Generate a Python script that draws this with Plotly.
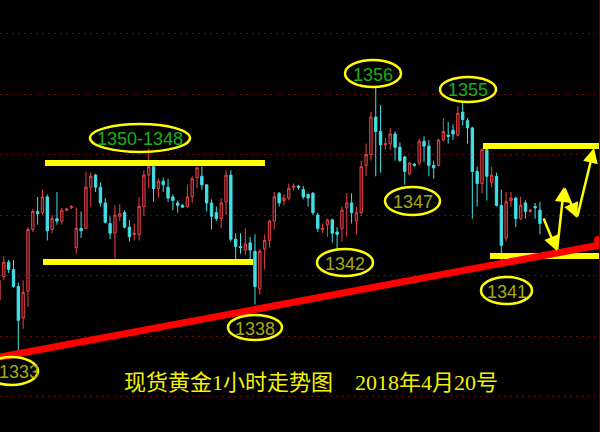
import plotly.graph_objects as go

# hourly candles (index 0 = first visible bar)
opens = [1338.0,1339.9,1341.1,1340.5,1339.1,1336.5,1338.7,1343.8,1345.3,1345.2,
         1346.5,1343.8,1344.7,1344.5,1345.4,1345.6,1342.3,1343.9,1343.9,1347.3,
         1348.3,1347.3,1346.0,1344.3,1343.5,1344.9,1345.2,1344.0,1343.4,1343.4,
         1345.7,1348.3,1349.0,1347.2,1347.8,1347.3,1346.5,1346.0,1345.8,1345.7,
         1346.5,1348.1,1348.2,1347.5,1346.0,1345.2,1344.7,1346.1,1348.3,1343.0,
         1342.4,1342.1,1342.7,1342.0,1338.9,1342.2,1342.9,1344.5,1346.8,1346.2,
         1346.4,1347.3,1347.4,1347.1,1346.7,1346.8,1345.0,1343.8,1344.2,1344.6,
         1343.6,1343.9,1345.6,1346.0,1344.5,1345.2,1349.1,1350.0,1353.1,1351.9,
         1350.8,1350.9,1351.7,1350.6,1349.8,1348.4,1349.2,1349.3,1351.1,1350.7,
         1349.1,1349.1,1351.2,1351.6,1352.0,1351.6,1353.5,1352.8,1352.2,1348.6,
         1347.6,1350.4,1347.7,1348.2,1345.8,1343.1,1346.2,1346.4,1344.7,1346.0,
         1345.3,1345.7,1345.4]
highs = [1340.0,1341.6,1341.3,1341.3,1339.4,1339.6,1344.0,1345.5,1346.5,1347.1,
         1346.7,1345.0,1346.9,1345.6,1345.6,1345.8,1345.6,1345.3,1348.6,1348.5,
         1348.4,1347.7,1346.4,1344.9,1345.8,1345.9,1345.4,1344.6,1344.3,1346.5,
         1348.7,1350.5,1349.1,1348.0,1348.1,1348.0,1346.7,1346.2,1345.9,1347.5,
         1348.2,1349.0,1349.0,1347.5,1346.3,1345.7,1346.4,1348.7,1348.7,1343.5,
         1343.5,1343.9,1343.2,1343.4,1342.2,1343.4,1344.6,1346.9,1346.9,1346.7,
         1347.6,1347.6,1347.5,1347.4,1346.8,1346.9,1345.2,1344.3,1344.7,1344.7,
         1344.0,1345.7,1346.8,1346.8,1345.7,1349.5,1350.9,1353.5,1355.6,1354.1,
         1351.4,1352.2,1351.9,1351.0,1349.9,1349.4,1349.3,1351.3,1351.5,1351.2,
         1349.5,1351.3,1353.0,1352.7,1352.5,1354.0,1354.4,1353.0,1352.3,1349.0,
         1350.5,1350.5,1349.0,1348.5,1347.1,1346.9,1346.9,1346.5,1346.5,1346.2,
         1345.5,1346.0,1346.1]
lows = [1337.3,1339.6,1340.2,1339.0,1333.6,1335.6,1337.4,1343.6,1344.2,1345.0,
        1342.9,1343.5,1344.2,1344.2,1345.3,1345.5,1341.8,1343.1,1343.8,1345.7,
        1346.9,1345.7,1344.3,1343.0,1341.4,1344.5,1343.9,1342.8,1342.9,1342.9,
        1344.9,1347.2,1346.1,1346.4,1346.9,1346.1,1345.4,1345.2,1345.6,1345.6,
        1346.0,1347.2,1347.1,1345.3,1343.8,1344.5,1343.9,1345.0,1342.8,1341.2,
        1341.8,1341.7,1341.3,1337.6,1338.4,1340.5,1342.3,1343.8,1345.7,1345.8,
        1346.2,1347.0,1347.1,1346.3,1345.7,1345.0,1343.6,1343.5,1343.2,1342.7,
        1342.1,1342.8,1343.2,1344.3,1343.4,1344.9,1348.2,1349.5,1348.2,1348.5,
        1350.4,1350.4,1349.5,1349.4,1347.5,1348.3,1349.0,1349.1,1349.4,1348.2,
        1348.0,1349.0,1351.1,1350.9,1351.2,1351.5,1352.4,1350.9,1344.7,1345.7,
        1346.8,1346.2,1347.3,1345.7,1341.2,1342.8,1345.7,1344.0,1344.6,1344.7,
        1345.2,1344.7,1343.4]
closes = [1339.6,1341.1,1340.5,1339.1,1336.3,1338.6,1343.8,1345.3,1345.1,1346.5,
          1343.7,1344.7,1344.5,1345.4,1345.5,1345.7,1343.9,1343.7,1347.3,1348.2,
          1347.3,1346.0,1344.4,1343.5,1345.0,1345.1,1344.0,1343.2,1343.5,1345.7,
          1348.3,1349.0,1347.2,1347.8,1347.5,1346.4,1346.2,1345.8,1345.65,1346.5,
          1348.0,1348.9,1347.5,1346.0,1344.9,1344.7,1346.0,1348.3,1343.0,1342.4,
          1342.3,1342.6,1342.1,1339.1,1342.0,1342.9,1344.5,1346.5,1346.0,1346.4,
          1347.2,1347.4,1347.3,1346.5,1346.4,1345.2,1343.9,1343.9,1344.6,1343.5,
          1343.4,1345.4,1346.0,1345.2,1345.2,1349.0,1350.0,1353.1,1351.9,1350.8,
          1350.9,1351.7,1350.6,1349.5,1348.6,1349.3,1349.1,1351.1,1350.7,1349.1,
          1348.9,1351.2,1351.9,1351.5,1351.7,1353.4,1352.9,1352.2,1348.6,1347.6,
          1350.4,1348.2,1348.3,1345.8,1342.5,1346.1,1346.4,1344.7,1345.8,1345.3,
          1345.4,1345.6,1344.3]
bars = list(range(len(opens)))

# annotated levels
label_texts = ["1350-1348", "1356", "1355", "1347", "1342", "1338", "1341", "1333"]
title_text = "现货黄金1小时走势图　2018年4月20号"

W, H = 600, 432

def px(x):
    return x / W

def py(y):
    return 1 - y / H

fig = go.Figure()
fig.add_trace(go.Candlestick(
    x=bars, open=opens, high=highs, low=lows, close=closes,
    increasing=dict(line=dict(color="#e8434a", width=1), fillcolor="#3a0b0d"),
    decreasing=dict(line=dict(color="#3fe0e6", width=1), fillcolor="#3fe0e6"),
    whiskerwidth=0, hoverinfo="skip", showlegend=False,
))

shapes = []
# yellow support/resistance lines (pixel geometry)
for (x0, x1, y) in [(45, 265, 163), (43, 253, 262), (483, 600, 146), (490, 600, 256)]:
    shapes.append(dict(type="line", xref="paper", yref="paper",
                       x0=px(x0), x1=px(x1), y0=py(y), y1=py(y),
                       line=dict(color="#ffff00", width=6)))
# red trendline
shapes.append(dict(type="line", xref="paper", yref="paper",
                   x0=px(0), x1=px(600), y0=py(357), y1=py(245),
                   line=dict(color="#ff0000", width=7)))
shapes.append(dict(type="circle", xref="paper", yref="paper",
                   x0=px(594), x1=px(602), y0=py(236), y1=py(244),
                   fillcolor="#ff0000", line=dict(width=0)))
shapes.append(dict(type="line", xref="paper", yref="paper",
                   x0=px(599.5), x1=px(599.5), y0=0, y1=1,
                   line=dict(color="#6a0000", width=1)))

# ellipses + label positions (pixel boxes)
boxes = [(90, 190, 124, 152), (345, 401, 60, 87), (440, 496, 77, 102),
         (385, 440, 187, 215), (317, 373, 249, 276), (228, 282, 315, 340),
         (481, 532, 277, 304), (-15, 38, 357, 385)]
colors = ["#14b014", "#14b014", "#14b014", "#a8a812", "#a8a812", "#a8a812", "#a8a812", "#a8a812"]
annotations = []
for (x0, x1, y0, y1), t, c in zip(boxes, label_texts, colors):
    shapes.append(dict(type="circle", xref="paper", yref="paper",
                       x0=px(x0), x1=px(x1), y0=py(y1), y1=py(y0),
                       line=dict(color="#ffff00", width=2.5)))
    cx = (x0 + x1) / 2 if x0 >= 0 else 19
    annotations.append(dict(x=px(cx), y=py((y0 + y1) / 2 + 1), xref="paper", yref="paper",
                            xanchor="center", yanchor="middle",
                            text=t, showarrow=False,
                            font=dict(family="Liberation Sans, Arial", size=18, color=c)))

annotations.append(dict(x=px(311), y=py(382), xref="paper", yref="paper", text=title_text,
                        xanchor="center", yanchor="middle", showarrow=False,
                        font=dict(family="Liberation Serif, Noto Sans CJK SC", size=22, color="#f2f200")))

# yellow zig-zag projection arrows
pts = [(543, 217), (557, 251), (564, 187), (577, 218), (594, 148)]
for (tx, ty), (hx, hy) in zip(pts[:-1], pts[1:]):
    annotations.append(dict(x=px(hx), y=py(hy), xref="paper", yref="paper",
                            ax=tx - hx, ay=ty - hy, axref="pixel", ayref="pixel",
                            showarrow=True, arrowhead=2, arrowsize=1.2, arrowwidth=2.5,
                            arrowcolor="#ffff00", standoff=0, text=""))

fig.update_layout(
    width=W, height=H, margin=dict(l=0, r=0, t=0, b=0),
    paper_bgcolor="#000000", plot_bgcolor="#000000",
    shapes=shapes, annotations=annotations, showlegend=False,
    xaxis=dict(range=[1 / 4.83, 601 / 4.83], showgrid=False, zeroline=False,
               showticklabels=False, ticks="", rangeslider=dict(visible=False)),
    yaxis=dict(range=[1327.07, 1362.77], tick0=1330, dtick=5, showgrid=True,
               gridcolor="#7a0000", gridwidth=1, griddash="2px,4px",
               zeroline=False, showticklabels=False, ticks=""),
)
fig.write_html("out.html", config={"displayModeBar": False},
               post_script="document.body.style.margin='0';")
